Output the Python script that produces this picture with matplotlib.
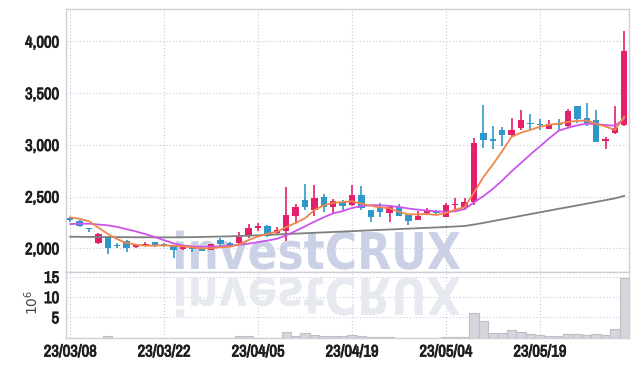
import matplotlib
matplotlib.use("Agg")
import matplotlib.pyplot as plt
import matplotlib.patheffects as pe
import numpy as np
from matplotlib import font_manager
from matplotlib.textpath import TextPath
from matplotlib.patches import PathPatch
from matplotlib.font_manager import FontProperties
from matplotlib.transforms import Affine2D

# trading days shown on the chart (yy/mm/dd)
dates = [
    "23/03/08", "23/03/09", "23/03/10", "23/03/13", "23/03/14", "23/03/15", "23/03/16", "23/03/17", "23/03/20", "23/03/21",
    "23/03/22", "23/03/23", "23/03/24", "23/03/27", "23/03/28", "23/03/29", "23/03/30", "23/03/31", "23/04/03", "23/04/04",
    "23/04/05", "23/04/06", "23/04/07", "23/04/10", "23/04/11", "23/04/12", "23/04/13", "23/04/14", "23/04/17", "23/04/18",
    "23/04/19", "23/04/20", "23/04/21", "23/04/24", "23/04/25", "23/04/26", "23/04/27", "23/04/28", "23/05/02", "23/05/03",
    "23/05/04", "23/05/08", "23/05/09", "23/05/10", "23/05/11", "23/05/12", "23/05/15", "23/05/16", "23/05/17", "23/05/18",
    "23/05/19", "23/05/22", "23/05/23", "23/05/24", "23/05/25", "23/05/26", "23/05/30", "23/05/31", "23/06/01", "23/06/02",
]

opens = [2290, 2265, 2195, 2050, 2110, 2025, 2075, 2010, 2025, 2058,
         2040, 2030, 1990, 2010, 1998, 1985, 2085, 2048, 2050, 2120,
         2200, 2215, 2145, 2170, 2315, 2465, 2370, 2500, 2400, 2445,
         2420, 2515, 2370, 2400, 2345, 2400, 2320, 2275, 2338, 2360,
         2305, 2415, 2396, 2450, 3118, 3060, 3144, 3096, 3160, 3215,
         3200, 3155, 3200, 3182, 3376, 3257, 3240, 3035, 3112, 3193]
highs = [2300, 2270, 2200, 2148, 2115, 2048, 2078, 2040, 2058, 2060,
         2048, 2035, 2025, 2015, 2003, 2045, 2095, 2065, 2155, 2235,
         2240, 2225, 2210, 2590, 2430, 2620, 2610, 2530, 2475, 2465,
         2610, 2605, 2375, 2435, 2410, 2428, 2325, 2360, 2392, 2370,
         2435, 2490, 2483, 3070, 3385, 3183, 3176, 3257, 3337, 3298,
         3250, 3240, 3250, 3345, 3380, 3402, 3337, 3080, 3380, 4105]
lows = [2251, 2206, 2160, 2045, 1942, 2000, 1965, 2005, 2020, 2010,
        2012, 1905, 1980, 1968, 1970, 1980, 2025, 2012, 2045, 2100,
        2165, 2105, 2130, 2075, 2245, 2375, 2310, 2355, 2340, 2370,
        2410, 2370, 2258, 2306, 2250, 2310, 2225, 2270, 2322, 2330,
        2300, 2375, 2370, 2420, 2967, 2957, 2985, 3080, 3140, 3145,
        3145, 3150, 3145, 3176, 3210, 3183, 3030, 2957, 3105, 3183]
closes = [2272, 2215, 2182, 2140, 2005, 2020, 2000, 2030, 2045, 2032,
          2030, 1985, 2010, 1990, 1978, 2040, 2042, 2027, 2105, 2200,
          2215, 2120, 2175, 2320, 2400, 2400, 2485, 2400, 2455, 2412,
          2515, 2385, 2305, 2348, 2400, 2315, 2265, 2312, 2370, 2338,
          2420, 2422, 2448, 3020, 3048, 3040, 3096, 3144, 3240, 3200,
          3192, 3200, 3190, 3328, 3255, 3209, 3030, 3060, 3160, 3908]

ma5 = [2300, 2285, 2262, 2200, 2140, 2088, 2052, 2035, 2025, 2027,
       2030, 2024, 2020, 2009, 1998, 2000, 2010, 2015, 2038, 2080,
       2115, 2140, 2160, 2205, 2245, 2290, 2370, 2415, 2440, 2448,
       2455, 2432, 2412, 2395, 2388, 2352, 2328, 2328, 2332, 2322,
       2340, 2372, 2400, 2540, 2690, 2810, 2940, 3078, 3118, 3145,
       3175, 3195, 3205, 3222, 3232, 3236, 3205, 3178, 3145, 3273]
ma10 = [2235, 2238, 2238, 2230, 2222, 2207, 2185, 2163, 2138, 2110,
        2078, 2048, 2028, 2018, 2015, 2016, 2020, 2026, 2035, 2045,
        2060, 2075, 2092, 2125, 2168, 2212, 2258, 2300, 2338, 2360,
        2390, 2408, 2417, 2416, 2410, 2400, 2385, 2374, 2365, 2358,
        2352, 2358, 2380, 2445, 2505, 2575, 2655, 2745, 2825, 2908,
        2985, 3063, 3137, 3165, 3190, 3205, 3200, 3192, 3185, 3253]
ma60 = [2112, 2111, 2110, 2110, 2109, 2108, 2108, 2107, 2107, 2106,
        2106, 2106, 2107, 2108, 2110, 2112, 2114, 2116, 2119, 2122,
        2126, 2130, 2134, 2138, 2142, 2146, 2150, 2154, 2158, 2162,
        2166, 2170, 2174, 2178, 2182, 2186, 2190, 2194, 2198, 2202,
        2206, 2211, 2216, 2230, 2246, 2263, 2280, 2297, 2314, 2331,
        2348, 2365, 2382, 2398, 2415, 2432, 2449, 2466, 2483, 2507]

# volume in millions of shares
volume = [0, 0, 0, 0, 0.3, 0, 0, 0, 0, 0,
          0, 0, 0, 0, 0, 0, 0, 0, 0.25, 0.25,
          0, 0, 0, 1.3, 0.33, 1.05, 0.5, 0.3, 0.3, 0.3,
          0.5, 0.4, 0.2, 0.2, 0.2, 0, 0, 0, 0, 0,
          0.2, 0.2, 0.1, 6.0, 4.2, 1.2, 1.2, 1.9, 1.4, 0.75,
          0.5, 0.25, 0.25, 0.75, 0.75, 0.5, 0.75, 0.5, 2.0, 14.7]

RED = "#e41f6c"
BLUE = "#2f97c9"
GRID = "#c5c9dd"
SPINE = "#cfcfd6"
LABEL = "#1e1e1e"


def narrow_font():
    # look for any installed narrow / condensed sans face
    for key in ("SansNarrow-Regular", "Narrow-Regular", "SansCondensed.", "Condensed-Regular", "Condensed"):
        for f in font_manager.fontManager.ttflist:
            base = f.fname.split("/")[-1]
            if key in base and "Bold" not in base and "Oblique" not in base and "Italic" not in base \
                    and "Mono" not in base and "Serif" not in base:
                return FontProperties(fname=f.fname)
    return None


W, H = 639, 366
fig = plt.figure(figsize=(W / 100, H / 100), dpi=100)
left, right = 66 / W, 629 / W
ax = fig.add_axes([left, 1 - 272 / H, right - left, (272 - 9) / H])
axv = fig.add_axes([left, 1 - 337.5 / H, right - left, (337.5 - 272) / H], sharex=ax)

x = np.arange(len(closes))
o = np.array(opens)
c = np.array(closes)
colors = np.where(c >= o, RED, BLUE)

# wicks and bodies
ax.vlines(x, lows, highs, colors=colors, linewidth=1.2, zorder=3)
body_h = np.maximum(np.abs(c - o), 10)
ax.bar(x, body_h, bottom=np.minimum(o, c), width=0.68, color=colors, zorder=3)

ax.plot(x, ma60, color="#7f7f7f", lw=1.3, zorder=4)
ax.plot(x, ma10, color="#cc55e6", lw=1.3, zorder=4)
ax.plot(x, ma5, color="#f0864c", lw=1.3, zorder=4)

axv.bar(x, volume, width=1.0, color="#d6d6dc", edgecolor="#bfbfc8", linewidth=0.8, zorder=3)


def watermark(axis, x0, base, width, cap, color, flip=False):
    prop = FontProperties(family="DejaVu Sans", weight="bold")
    tp = TextPath((0, 0), "investCRUX", size=1, prop=prop)
    ext = tp.get_extents()
    sy = cap / 0.73
    sx = width / ext.width
    tr = Affine2D().translate(-ext.x0, 0).scale(sx, -sy if flip else sy).translate(x0, base)
    axis.add_patch(PathPatch(tp, transform=tr, facecolor=color, edgecolor="none", zorder=1))


watermark(ax, 176, H - 269, 284, 37, "#cad1e6")
watermark(axv, 176, H - 278, 284, 37, "#e7e9f1", flip=True)

ax.set_xlim(-0.45, 59.5)
ax.set_ylim(1771, 4314)
axv.set_ylim(0, 16.2)

ax.set_yticks([2000, 2500, 3000, 3500, 4000])
ax.set_yticklabels(["2,000", "2,500", "3,000", "3,500", "4,000"])
axv.set_yticks([5, 10, 15])
axv.set_yticklabels(["5", "10", "15"])
ticks = x[::10]
axv.set_xticks(ticks)
axv.set_xticklabels([dates[i] for i in ticks])
ax.tick_params(axis="x", labelbottom=False, length=0)

nfp = narrow_font()
thick = [pe.withStroke(linewidth=0.6, foreground=LABEL)]
for a in (ax, axv):
    a.grid(True, color=GRID, linestyle=(0, (1, 2)), linewidth=0.8)
    a.set_axisbelow(True)
    a.tick_params(length=0, pad=5, colors=LABEL)
    for s in a.spines.values():
        s.set_color(SPINE)
        s.set_linewidth(1.0)
    for lab in a.get_xticklabels() + a.get_yticklabels():
        lab.set_path_effects(thick)
        if nfp is not None:
            lab.set_fontproperties(nfp)
            lab.set_fontsize(13)
        else:
            lab.set_fontsize(10)

fig.text(32 / W, 1 - 302 / H, r"$10^{6}$", rotation=90, ha="center", va="center",
         fontsize=10, color="#444444")

fig.savefig("out.png", dpi=100)
